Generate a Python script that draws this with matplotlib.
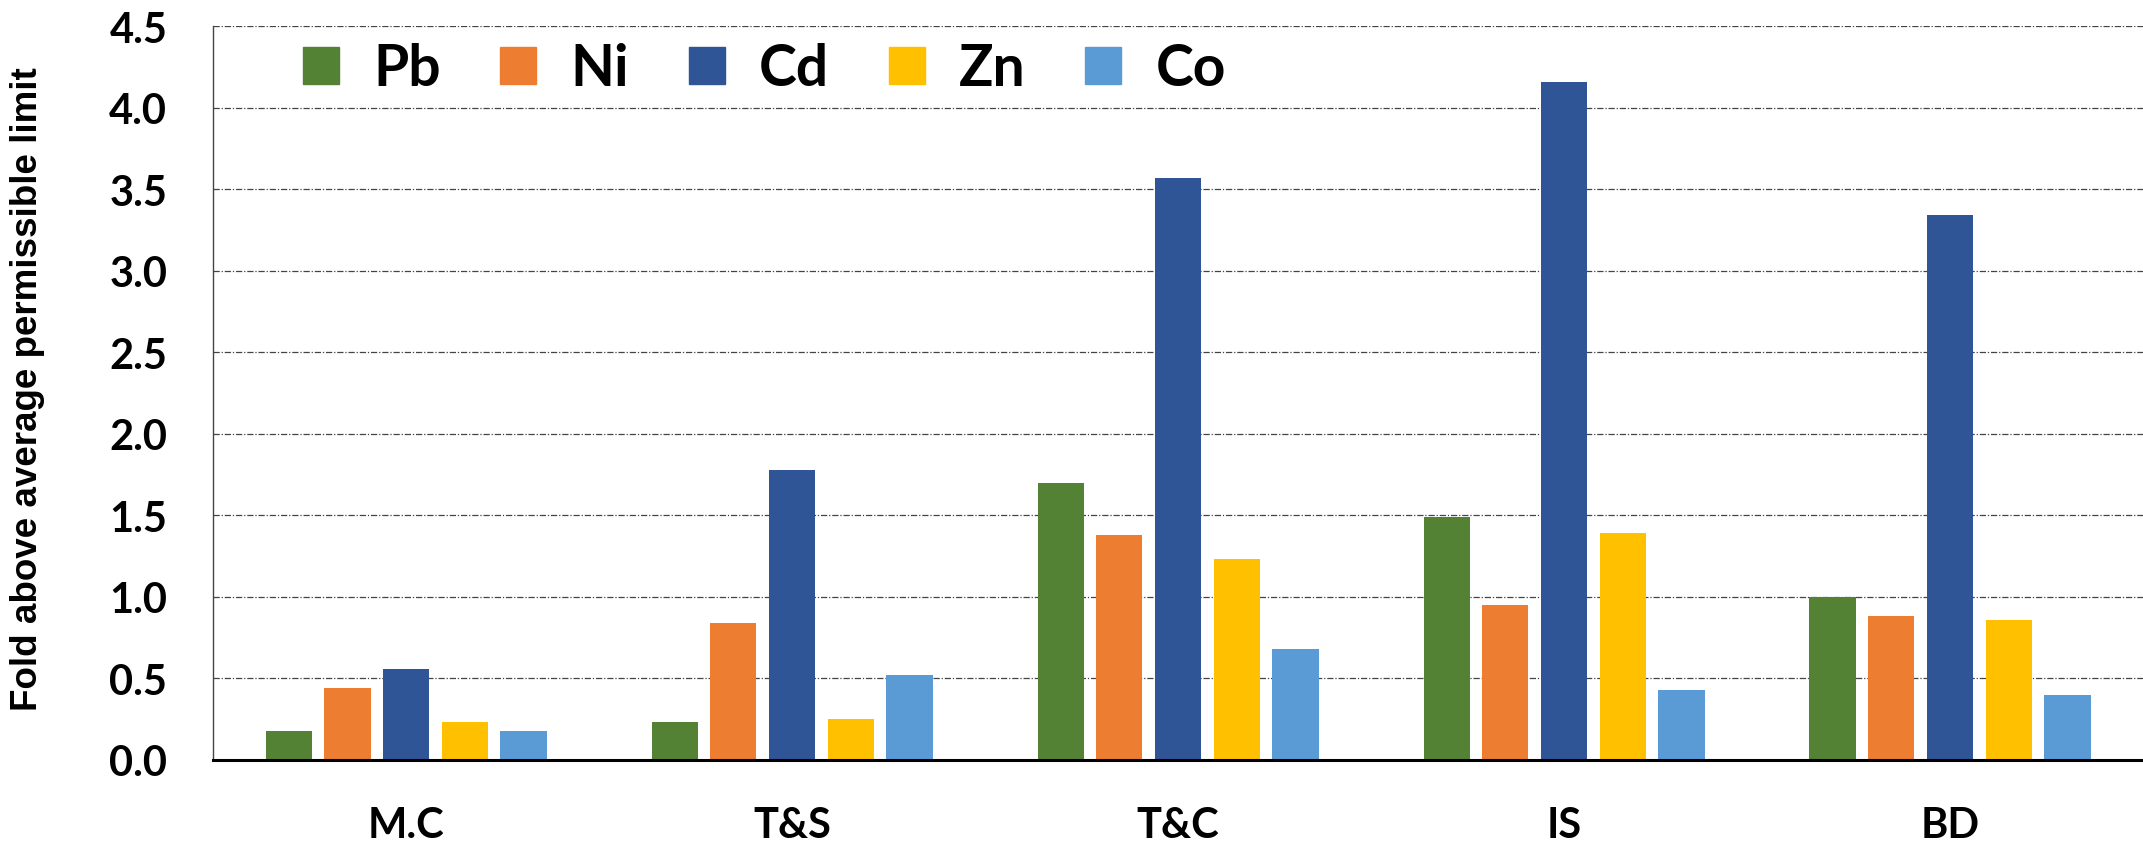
import numpy as np
import matplotlib
matplotlib.use("Agg")
import matplotlib.pyplot as plt
from matplotlib.patches import Rectangle

# data
sites = ["M.C", "T&S", "T&C", "IS", "BD"]
metals = ["Pb", "Ni", "Cd", "Zn", "Co"]
pb = [0.18, 0.23, 1.70, 1.49, 1.00]
ni = [0.44, 0.84, 1.38, 0.95, 0.88]
cd = [0.56, 1.78, 3.57, 4.16, 3.34]
zn = [0.23, 0.25, 1.23, 1.39, 0.86]
co = [0.18, 0.52, 0.68, 0.43, 0.40]
yticks = [0.0, 0.5, 1.0, 1.5, 2.0, 2.5, 3.0, 3.5, 4.0, 4.5]

colors = ["#548235", "#ED7D31", "#2F5597", "#FFC000", "#5B9BD5"]
series = [pb, ni, cd, zn, co]

tick_font = ["Lato", "DejaVu Sans"]

fig = plt.figure(figsize=(21.43, 8.53), dpi=100)
ax = fig.add_axes([0.0994, 0.108, 0.9006, 0.860])

x = np.arange(len(sites))
w = 0.12
step = 0.152
for i, (vals, c) in enumerate(zip(series, colors)):
    ax.bar(x + (i - 2) * step, vals, width=w, color=c, label=metals[i], zorder=3)

ax.set_xlim(-0.5, len(sites) - 0.5)
ax.set_ylim(0, 4.5)
ax.set_yticks(yticks)
ax.set_yticklabels(["%.1f" % v for v in yticks], fontsize=30, fontweight="bold", family=tick_font)
ax.set_xticks(x)
ax.set_xticklabels(sites, fontsize=30, fontweight="bold", family=tick_font)
ax.tick_params(axis="both", length=0)
ax.tick_params(axis="x", pad=33)
ax.tick_params(axis="y", pad=33)

ax.yaxis.grid(True, linestyle=(0, (5, 1.5, 1, 1.5)), color="#444444", linewidth=0.9, zorder=0)
ax.set_axisbelow(True)

for s in ["top", "right"]:
    ax.spines[s].set_visible(False)
ax.spines["left"].set_color("#444444")
ax.spines["left"].set_linewidth(1.0)
ax.spines["bottom"].set_color("black")
ax.spines["bottom"].set_linewidth(2.2)
ax.spines["bottom"].set_zorder(4)

ax.set_ylabel("Fold above average permissible limit", fontsize=26.5, fontweight="bold",
              family=["Liberation Sans", "DejaVu Sans"])
ax.yaxis.set_label_coords(-0.087, 0.507)

handles = [Rectangle((0, 0), 1, 1, color=c) for c in colors]
leg = ax.legend(handles, metals, loc="center left", ncol=5, frameon=False,
                bbox_to_anchor=(0.0466, 0.942), borderaxespad=0, borderpad=0,
                handlelength=0.63, handleheight=0.61,
                handletextpad=0.6, columnspacing=1.05,
                prop={"family": tick_font, "weight": "bold", "size": 41})

fig.savefig("out.png", dpi=100)
